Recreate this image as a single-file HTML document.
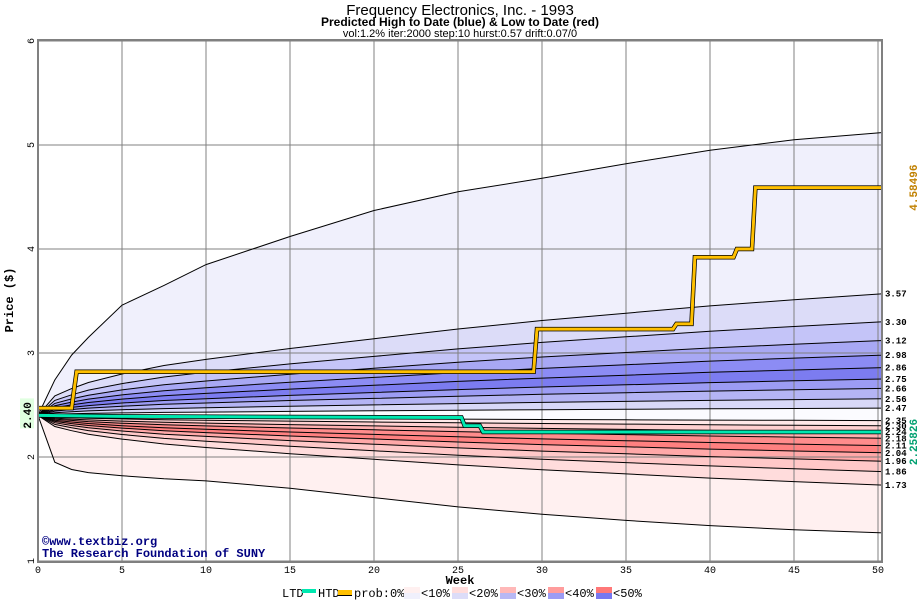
<!DOCTYPE html>
<html><head><meta charset="utf-8"><style>
body{margin:0;background:#fff}
svg{display:block;font-family:"Liberation Mono","DejaVu Sans Mono",monospace}
</style></head><body>
<svg id="chart" width="920" height="600" viewBox="0 0 920 600" xmlns="http://www.w3.org/2000/svg">
<text x="460" y="15" text-anchor="middle" font-size="15" font-family="Liberation Sans Narrow, Liberation Sans, sans-serif">Frequency Electronics, Inc. - 1993</text>
<text x="460" y="26" text-anchor="middle" font-size="12" font-weight="bold" font-family="Liberation Sans Narrow, Liberation Sans, sans-serif">Predicted High to Date (blue) &amp;  Low to Date (red)</text>
<text x="460" y="37" text-anchor="middle" font-size="11" font-family="Liberation Sans Narrow, Liberation Sans, sans-serif">vol:1.2% iter:2000 step:10 hurst:0.57 drift:0.07/0</text>
<g id="bands"></g>
<g id="grid"></g>
<g id="contours"></g>
<g id="series"></g>
<g id="axes"></g>
<text x="460" y="584" text-anchor="middle" font-size="12" font-weight="bold">Week</text>
<text transform="translate(13,300) rotate(-90)" text-anchor="middle" font-size="12" font-weight="bold">Price ($)</text>
<text x="42" y="545" font-size="12" font-weight="bold" fill="#000080">©www.textbiz.org</text>
<text x="42" y="557" font-size="12" font-weight="bold" fill="#000080">The Research Foundation of SUNY</text>
<g id="legend"></g>
</svg>
<script>
const weeks=[0,1,2,3,5,7.5,10,15,20,25,30,35,40,45,50.3];
const profile=[0,0.16,0.22,0.27,0.34,0.41,0.46,0.55,0.63,0.71,0.78,0.84,0.90,0.95,1.0];
const maxCurve=[2.40,2.74,2.98,3.15,3.46,3.65,3.85,4.12,4.37,4.55,4.68,4.82,4.95,5.05,5.12];
const minCurve=[2.40,1.95,1.88,1.85,1.82,1.79,1.77,1.70,1.61,1.52,1.45,1.39,1.34,1.30,1.27];
const contourEnds=[3.57,3.30,3.12,2.98,2.86,2.75,2.66,2.56,2.47,2.35,2.30,2.24,2.18,2.11,2.04,1.96,1.86,1.73];
const contourLabels=["3.57","3.30","3.12","2.98","2.86","2.75","2.66","2.56","2.47","2.35","2.30","2.24","2.18","2.11","2.04","1.96","1.86","1.73"];
const bandColors=["#f0f0fc","#dcdcf8","#c4c4f8","#a8a8f4","#8c8cf4","#7c7cf0","#9c9cf4","#b4b4f4","#d8d8f8","#fbfbff","#ffe8e8","#ffd0d0","#ffb0b0","#ff8c8c","#ff8080","#ffa8a8","#ffc8c8","#ffdcdc","#fff0f0"];
const startPrice=2.40;
const htdWeeks=[0,2,2.3,29.5,29.7,37.8,38,38.9,39.1,41.4,41.6,42.5,42.7,50.3];
const htdValues=[2.47,2.47,2.82,2.82,3.23,3.23,3.28,3.28,3.92,3.92,4.00,4.00,4.59,4.59];
const ltdWeeks=[0,5,25.2,25.4,26.3,26.5,50.3];
const ltdValues=[2.40,2.39,2.38,2.30,2.30,2.24,2.24];
const xTicks=[0,5,10,15,20,25,30,35,40,45,50];
const yTicks=[1,2,3,4,5,6];
const legendLabels=["<10%","<20%","<30%","<40%","<50%"];
const legendBlue=["#f0f0fc","#dcdcf8","#b8b8f4","#9c9cf4","#7878f0"];
const legendRed=["#fff0f0","#ffdcdc","#ffb8b8","#ff9c9c","#ff7878"];

const NS="http://www.w3.org/2000/svg";
const X=w=>38+w*16.8;
const Y=p=>561-(p-1)*104;
function mk(tag,parent){const e=document.createElementNS(NS,tag);parent.appendChild(e);return e;}
const curves=[maxCurve];
contourEnds.forEach(v=>curves.push(profile.map(f=>startPrice+(v-startPrice)*f)));
curves.push(minCurve);
const pts=c=>c.map((v,i)=>X(weeks[i]).toFixed(1)+","+Y(v).toFixed(1));
const bands=document.getElementById('bands');
for(let i=0;i<curves.length-1;i++){
  const p=mk('polygon',bands);
  
  
  p.setAttribute('points',pts(curves[i]).concat(pts(curves[i+1]).reverse()).join(' '));
  p.setAttribute('fill',bandColors[i]);
}
const grid=document.getElementById('grid');
xTicks.forEach(w=>{const l=mk('line',grid);


l.setAttribute('x1',X(w));l.setAttribute('x2',X(w));l.setAttribute('y1',40);l.setAttribute('y2',562);l.setAttribute('stroke','#808080');});
yTicks.forEach(p=>{const l=mk('line',grid);


l.setAttribute('x1',38);l.setAttribute('x2',882);l.setAttribute('y1',Y(p));l.setAttribute('y2',Y(p));l.setAttribute('stroke','#808080');});
const cg=document.getElementById('contours');
curves.forEach((c,i)=>{const l=mk('polyline',cg);


l.setAttribute('points',pts(c).join(' '));l.setAttribute('fill','none');l.setAttribute('stroke','#000');l.setAttribute('stroke-width','1');});
contourEnds.forEach((v,i)=>{const t=mk('text',cg);


t.setAttribute('x',885);t.setAttribute('y',Y(v)+3);t.setAttribute('font-size','9');t.setAttribute('font-weight','bold');t.textContent=contourLabels[i];});
const sg=document.getElementById('series');
function step(ws,vs,color,name){
  const p=ws.map((w,i)=>X(w).toFixed(1)+","+Y(vs[i]).toFixed(1)).join(' ');
  const a=mk('polyline',sg);
  
  
  a.setAttribute('points',p);a.setAttribute('fill','none');a.setAttribute('stroke','#000');a.setAttribute('stroke-width','4.5');
  const b=mk('polyline',sg);
  
  
  b.setAttribute('points',p);b.setAttribute('fill','none');b.setAttribute('stroke',color);b.setAttribute('stroke-width','3');
}
step(ltdWeeks,ltdValues,'#00e8b0','ltd-line');
step(htdWeeks,htdValues,'#ffc000','htd-line');
const ax=document.getElementById('axes');
const fr=mk('rect',ax);


fr.setAttribute('x',38);fr.setAttribute('y',40);fr.setAttribute('width',844);fr.setAttribute('height',522);fr.setAttribute('fill','none');fr.setAttribute('stroke','#808080');fr.setAttribute('stroke-width','2');
xTicks.forEach(w=>{const t=mk('text',ax);


t.setAttribute('x',X(w));t.setAttribute('y',573);t.setAttribute('text-anchor','middle');t.setAttribute('font-size','10');t.textContent=w;});
yTicks.forEach(p=>{const t=mk('text',ax);


t.setAttribute('transform','translate(34,'+Y(p)+') rotate(-90)');t.setAttribute('text-anchor','middle');t.setAttribute('font-size','10');t.textContent=p;});
const sb=mk('rect',ax);


sb.setAttribute('x',20);sb.setAttribute('y',Y(startPrice)-17);sb.setAttribute('width',14);sb.setAttribute('height',30);sb.setAttribute('fill','#e0ffe0');
const st=mk('text',ax);


st.setAttribute('transform','translate(31,'+Y(startPrice)+') rotate(-90)');st.setAttribute('text-anchor','middle');st.setAttribute('font-size','11');st.setAttribute('font-weight','bold');st.textContent=startPrice.toFixed(2);
const hl=mk('text',ax);


hl.setAttribute('transform','translate(917,'+Y(htdValues[htdValues.length-1])+') rotate(-90)');hl.setAttribute('text-anchor','middle');hl.setAttribute('font-size','11');hl.setAttribute('font-weight','bold');hl.setAttribute('fill','#c08000');hl.textContent='4.58496';
const ll=mk('text',ax);


ll.setAttribute('transform','translate(917,'+(Y(ltdValues[ltdValues.length-1])+10)+') rotate(-90)');ll.setAttribute('text-anchor','middle');ll.setAttribute('font-size','11');ll.setAttribute('font-weight','bold');ll.setAttribute('fill','#00a070');ll.textContent='2.25826';
const lg=document.getElementById('legend');
function ltext(x,s){const t=mk('text',lg);


t.setAttribute('x',x);t.setAttribute('y',597);t.setAttribute('font-size','12');t.textContent=s;return t;}
function lrect(x,y,w,h,c,n){const r=mk('rect',lg);


r.setAttribute('x',x);r.setAttribute('y',y);r.setAttribute('width',w);r.setAttribute('height',h);r.setAttribute('fill',c);}
ltext(282,'LTD');lrect(302,589,14,4,'#00e8b0','legend-ltd-swatch');
ltext(318,'HTD');lrect(338,590,14,5,'#ffc000','legend-htd-swatch');lrect(338,595,14,1,'#000','legend-htd-outline');
ltext(354,'prob:0%<');
legendLabels.forEach((s,i)=>{const x=404+i*48;
lrect(x,587,16,6,legendRed[i],'legend-red-swatch');
lrect(x,593,16,6,legendBlue[i],'legend-blue-swatch');
ltext(x+17,s);});
</script>
</body></html>
